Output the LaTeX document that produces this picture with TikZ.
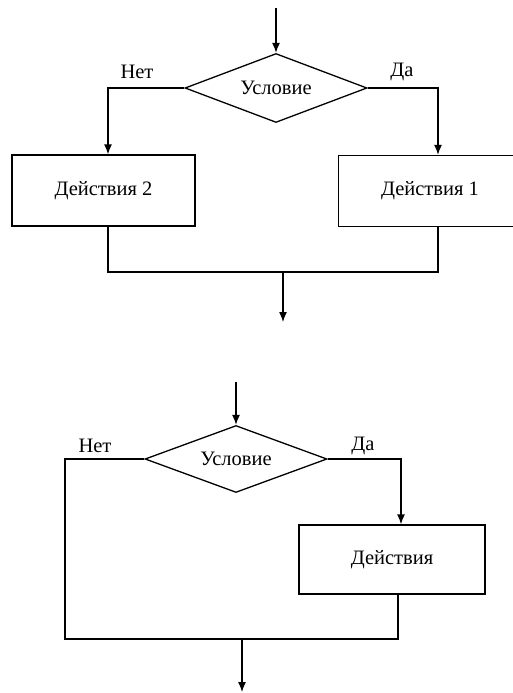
\documentclass[tikz,border=0pt]{standalone}
\usepackage{fontspec}
\setmainfont{Liberation Serif}
\usetikzlibrary{shapes.geometric,arrows.meta}
\begin{document}
\begin{tikzpicture}[x=1pt,y=-1pt,line width=1.3pt,
    cond/.style={draw,diamond,aspect=2.6,inner sep=0pt,minimum width=182pt,minimum height=69pt},
    act/.style={draw,rectangle,minimum width=183pt,minimum height=71pt},
    arr/.style={-{Latex[length=10pt,width=8pt]}},
    every node/.style={font=\fontsize{20.5}{22}\selectfont}]
    \useasboundingbox (0,0) rectangle (513,693);
    % first picture
    \coordinate (in1) at (276,8);
    \node[cond] (cond1) at (276,88) {Условие};
    \node[act] (act2) at (103.5,190.5) {Действия 2};
    \node[act] (act1) at (430,191) {Действия 1};
    \node (no1) at (137,72) {Нет};
    \node (yes1) at (402,72) {Да};
    \coordinate (join1) at (283,272);
    \coordinate (out1) at (283,322);
    \draw[arr] (in1) -- (cond1.north);
    \draw[arr] (cond1.west) -| ([xshift=4.5pt]act2.north);
    \draw[arr] (cond1.east) -| ([xshift=8pt]act1.north);
    \draw ([xshift=4.5pt]act2.south) |- (join1) -| ([xshift=8pt]act1.south);
    \draw[arr] (join1) -- (out1);
    % second picture
    \coordinate (in2) at (236,382);
    \node[cond,minimum height=67pt] (cond2) at (236,459) {Условие};
    \node[act,minimum width=186pt,minimum height=69pt] (act3) at (392,559.5) {Действия};
    \node (no2) at (95,446) {Нет};
    \node (yes2) at (363,446) {Да};
    \coordinate (left2) at (65,459);
    \coordinate (join2) at (242,639);
    \coordinate (out2) at (242,692);
    \draw[arr] (in2) -- (cond2.north);
    \draw[arr] (cond2.east) -| ([xshift=9pt]act3.north);
    \draw (cond2.west) -- (left2) |- (join2) -| ([xshift=6pt]act3.south);
    \draw[arr] (join2) -- (out2);
\end{tikzpicture}
\end{document}
